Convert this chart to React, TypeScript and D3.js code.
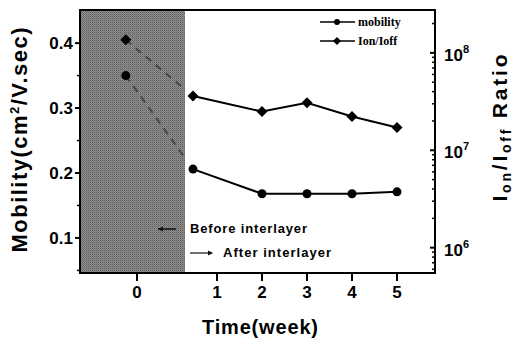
import React from 'react';
import * as d3 from 'd3';

// data
const weeks = [-0.14, 0.7, 2, 3, 4, 5];
const mobility = [0.35, 0.206, 0.168, 0.168, 0.168, 0.171];
const onOffRatio = [1.36e8, 3.6e7, 2.5e7, 3.07e7, 2.22e7, 1.71e7];
const xTicks = [0, 1, 2, 3, 4, 5];
const mobilityTicks = [0.1, 0.2, 0.3, 0.4];
const mobilityMinor = [0.05, 0.15, 0.25, 0.35];
const ratioTicks = [1e6, 1e7, 1e8];
const ratioExp = ['6', '7', '8'];
const shadeEnd = 0.6;
const legendItems = ['mobility', 'Ion/Ioff'];

const W = 516;
const H = 342;
const margin = { top: 10, right: 81, bottom: 69, left: 80 };
const width = W - margin.left - margin.right;
const height = H - margin.top - margin.bottom;

const sans = '"Liberation Sans", Arial, sans-serif';
const serif = '"Liberation Serif", "Times New Roman", serif';

export default function App() {
  // x axis is not uniform in the original (week 0 block is compressed)
  const x = d3.scaleLinear().domain([0, 1, 5]).range([57, 137, 317]);
  const yL = d3.scaleLinear().domain([0.046, 0.451]).range([height, 0]);
  const yR = d3.scaleLog().domain([Math.pow(10, 5.74), Math.pow(10, 8.44)]).range([height, 0]);

  const minorR: number[] = [];
  [1e5, 1e6, 1e7, 1e8].forEach(d => {
    for (let k = 2; k <= 9; k++) {
      const v = d * k;
      if (v > yR.domain()[0] && v < yR.domain()[1]) minorR.push(v);
    }
  });

  const idx = weeks.map((_, i) => i);
  const mobLine = d3.line<number>().x(i => x(weeks[i])).y(i => yL(mobility[i]));
  const ratioLine = d3.line<number>().x(i => x(weeks[i])).y(i => yR(onOffRatio[i]));
  const after = idx.slice(1);
  const before = idx.slice(0, 2);

  const diamond = (cx: number, cy: number, r: number) =>
    `M${cx},${cy - r}L${cx + r},${cy}L${cx},${cy + r}L${cx - r},${cy}Z`;

  const shadeW = x(shadeEnd);

  return (
    <svg width={W} height={H} style={{ position: 'absolute', left: 0, top: 0, background: '#fff' }}>
      <defs>
        <pattern id="halftone" width="2" height="2" patternUnits="userSpaceOnUse">
          <rect width="2" height="2" fill="#929292" />
          <rect width="1" height="1" fill="#5c5c5c" />
          <rect x="1" y="1" width="1" height="1" fill="#747474" />
        </pattern>
        <clipPath id="shadeClip">
          <rect x={0} y={0} width={shadeW} height={height} />
        </clipPath>
      </defs>
      <g transform={`translate(${margin.left},${margin.top})`}>
        <rect x={0} y={0} width={shadeW} height={height} fill="url(#halftone)" />

        {/* before-interlayer dashed links */}
        <g clipPath="url(#shadeClip)" opacity={0.6}>
          <path d={mobLine(before) || ''} fill="none" stroke="#222" strokeWidth={2} strokeDasharray="7,6" />
          <path d={ratioLine(before) || ''} fill="none" stroke="#222" strokeWidth={2} strokeDasharray="7,6" />
        </g>

        <path d={mobLine(after) || ''} fill="none" stroke="#000" strokeWidth={2} />
        <path d={ratioLine(after) || ''} fill="none" stroke="#000" strokeWidth={2} />

        {idx.map(i => (
          <circle key={'m' + i} cx={x(weeks[i])} cy={yL(mobility[i])} r={4.5} fill="#000" />
        ))}
        {idx.map(i => (
          <path key={'r' + i} d={diamond(x(weeks[i]), yR(onOffRatio[i]), 5.5)} fill="#000" />
        ))}

        {/* frame */}
        <rect x={0} y={0} width={width} height={height} fill="none" stroke="#000" strokeWidth={2} />

        {/* left axis */}
        {mobilityTicks.map(t => (
          <g key={'yl' + t} transform={`translate(0,${yL(t)})`}>
            <line x1={-5} x2={0} stroke="#000" strokeWidth={2} />
            <text x={-7} dy="0.36em" textAnchor="end" fontFamily={sans} fontWeight="bold" fontSize={17}>
              {t.toFixed(1)}
            </text>
          </g>
        ))}
        {mobilityMinor.map(t => (
          <line key={'ylm' + t} x1={-3} x2={0} y1={yL(t)} y2={yL(t)} stroke="#000" strokeWidth={1.5} />
        ))}

        {/* right axis */}
        {ratioTicks.map((t, i) => (
          <g key={'yr' + t} transform={`translate(${width},${yR(t)})`}>
            <line x1={-5} x2={0} stroke="#000" strokeWidth={2} />
            <text x={9} y={2} dy="0.36em" fontFamily={sans} fontWeight="bold" fontSize={17}>
              10<tspan dy="-8" fontSize={11}>{ratioExp[i]}</tspan>
            </text>
          </g>
        ))}
        {minorR.map(t => (
          <line key={'yrm' + t} x1={width - 3} x2={width} y1={yR(t)} y2={yR(t)} stroke="#000" strokeWidth={1.5} />
        ))}

        {/* bottom axis */}
        {xTicks.map(t => (
          <g key={'x' + t} transform={`translate(${x(t)},${height})`}>
            <line y1={0} y2={8} stroke="#000" strokeWidth={2} />
            <text y={25} textAnchor="middle" fontFamily={sans} fontWeight="bold" fontSize={17}>
              {t}
            </text>
          </g>
        ))}

        {/* legend */}
        {legendItems.map((name, i) => {
          const ly = 12 + i * 19;
          const lx = 240;
          return (
            <g key={name} transform={`translate(${lx},${ly})`}>
              <line x1={0} x2={35} stroke="#000" strokeWidth={1.5} />
              {i === 0 ? <circle cx={17} r={3} fill="#000" /> : <path d={diamond(17, 0, 4)} fill="#000" />}
              <text x={38} dy="0.33em" fontFamily={serif} fontWeight="bold" fontSize={12}>
                {name}
              </text>
            </g>
          );
        })}

        {/* annotations */}
        <g fontFamily={sans} fontWeight="bold" fontSize={13}>
          <line x1={96} x2={78} y1={219} y2={219} stroke="#111" strokeWidth={1.5} />
          <path d="M78,219l5,-2.5v5z" fill="#111" />
          <text x={110} y={223} textLength={117}>Before interlayer</text>
          <line x1={110} x2={132} y1={243} y2={243} stroke="#111" strokeWidth={1.2} />
          <path d="M133,243l-5,-2.5v5z" fill="#111" />
          <text x={143} y={247} textLength={108}>After interlayer</text>
        </g>
      </g>

      {/* axis titles */}
      <text
        transform={`translate(27,${margin.top + 130}) rotate(-90)`}
        textAnchor="middle"
        fontFamily={sans}
        fontWeight="bold"
        fontSize={22}
        textLength={225}
      >
        Mobility(cm<tspan dy="-8" fontSize={13}>2</tspan>
        <tspan dy="8">/V.sec)</tspan>
      </text>
      <text
        transform={`translate(507,${margin.top + 118}) rotate(-90)`}
        textAnchor="middle"
        fontFamily={sans}
        fontWeight="bold"
        fontSize={21}
        textLength={147}
      >
        I<tspan dy="4" fontSize={14}>on</tspan>
        <tspan dy="-4">/I</tspan>
        <tspan dy="4" fontSize={14}>off</tspan>
        <tspan dy="-4"> Ratio</tspan>
      </text>
      <text x={260} y={334} textAnchor="middle" fontFamily={sans} fontWeight="bold" fontSize={20} textLength={116}>
        Time(week)
      </text>
    </svg>
  );
}
